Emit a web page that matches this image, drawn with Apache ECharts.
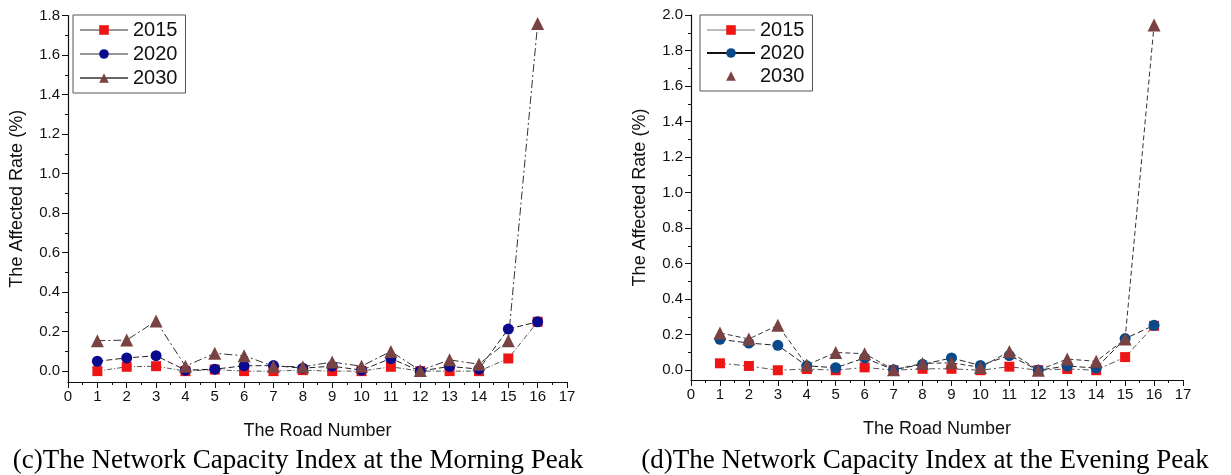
<!DOCTYPE html>
<html>
<head>
<meta charset="utf-8">
<script src="https://cdn.jsdelivr.net/npm/echarts@6/dist/echarts.min.js"></script>
<style>
html,body{margin:0;padding:0;background:#fff;}
#c{width:1231px;height:475px;}
</style>
</head>
<body>
<div id="c"></div>
<script>
var roads = [1,2,3,4,5,6,7,8,9,10,11,12,13,14,15,16];
var years = ['2015','2020','2030'];
// (c) Morning peak
var morning2015 = [0.000,0.022,0.025,0.000,0.008,0.000,0.000,0.005,0.000,0.000,0.022,0.000,0.000,0.000,0.064,0.250];
var morning2020 = [0.050,0.067,0.078,0.005,0.010,0.027,0.028,0.015,0.025,0.005,0.064,0.000,0.024,0.010,0.213,0.250];
var morning2030 = [0.154,0.157,0.254,0.025,0.090,0.078,0.025,0.022,0.046,0.025,0.100,0.003,0.057,0.035,0.154,1.760];
// (d) Evening peak
var evening2015 = [0.039,0.024,0.000,0.007,0.000,0.016,0.000,0.008,0.008,0.000,0.020,0.000,0.007,0.000,0.074,0.250];
var evening2020 = [0.174,0.153,0.140,0.025,0.014,0.069,0.003,0.033,0.069,0.027,0.083,0.000,0.024,0.012,0.178,0.253];
var evening2030 = [0.210,0.176,0.253,0.029,0.100,0.093,0.003,0.038,0.042,0.016,0.106,0.000,0.063,0.050,0.176,1.943];
var leftMajor = [0,0.2,0.4,0.6,0.8,1.0,1.2,1.4,1.6,1.8];
var leftMinor = [0.1,0.3,0.5,0.7,0.9,1.1,1.3,1.5,1.7];
var rightMajor = [0,0.2,0.4,0.6,0.8,1.0,1.2,1.4,1.6,1.8,2.0];
var rightMinor = [0.1,0.3,0.5,0.7,0.9,1.1,1.3,1.5,1.7,1.9];
var xTitle = 'The Road Number';
var yTitle = 'The Affected Rate (%)';
var captionC = '(c)The Network Capacity Index at the Morning Peak';
var captionD = '(d)The Network Capacity Index at the Evening Peak';

var FONT = 'Liberation Sans';
function pairs(v){ return roads.map(function(r,i){ return [r, v[i]]; }); }

function xAxisDef(gi){
  return {
    type:'value', gridIndex:gi, min:0, max:17, interval:1,
    name:xTitle, nameLocation:'middle', nameGap:40,
    nameTextStyle:{fontFamily:FONT, fontSize:18, color:'#111'},
    axisLine:{show:true, onZero:false, lineStyle:{color:'#111', width:1.2}},
    axisTick:{show:true, inside:false, length:6, lineStyle:{color:'#111'}},
    minorTick:{show:true, splitNumber:2, length:3, lineStyle:{color:'#111'}},
    axisLabel:{fontFamily:FONT, fontSize:15, color:'#111', margin:7},
    splitLine:{show:false}, minorSplitLine:{show:false}
  };
}
function yAxisMain(gi, max, major){
  return {
    type:'value', gridIndex:gi, min:-0.055, max:max, position:'left',
    name:yTitle, nameLocation:'middle', nameGap:42, nameRotate:90,
    nameTextStyle:{fontFamily:FONT, fontSize:18, color:'#111'},
    axisLine:{show:true, lineStyle:{color:'#111', width:1.2}},
    axisTick:{show:true, inside:false, length:6, customValues:major, lineStyle:{color:'#111'}},
    axisLabel:{fontFamily:FONT, fontSize:15, color:'#111', margin:8, customValues:major,
      formatter:function(v){ return (+v).toFixed(1); }},
    splitLine:{show:false}
  };
}
function yAxisMinor(gi, max, minor){
  return {
    type:'value', gridIndex:gi, min:-0.055, max:max, position:'left', offset:0,
    axisLine:{show:false},
    axisTick:{show:true, inside:false, length:3, customValues:minor, lineStyle:{color:'#111'}},
    axisLabel:{show:false},
    splitLine:{show:false}
  };
}
function seriesDef(name, data, xi, yi, symbol, color, size, lineColor, dash){
  return {
    name:name, type:'line', xAxisIndex:xi, yAxisIndex:yi, data:pairs(data),
    symbol:symbol, symbolSize:size, showSymbol:true,
    itemStyle:{color:color},
    lineStyle:{color:lineColor, width:1, type:dash},
    z: 2, animation:false
  };
}
var RED = '#ee1515', BLUE_L = '#0a0a8f', BLUE_R = '#0b4a88', BROWN = '#7a4343';

var option = {
  animation:false,
  backgroundColor:'#fff',
  grid:[
    {left:68, top:15.5, width:499, height:366.5, containLabel:false},
    {left:691, top:15, width:492, height:365, containLabel:false}
  ],
  xAxis:[xAxisDef(0), xAxisDef(1)],
  yAxis:[yAxisMain(0,1.8,leftMajor), yAxisMain(1,2.0,rightMajor), yAxisMinor(0,1.8,leftMinor), yAxisMinor(1,2.0,rightMinor)],
  legend:[
    {
      left:73, top:15, orient:'vertical', itemWidth:48, itemHeight:12, itemGap:4,
      padding:[5,8,5,6], borderColor:'#555', borderWidth:1,
      textStyle:{fontFamily:FONT, fontSize:20, color:'#111'},
      data:[
        {name:'2015', lineStyle:{type:'solid', color:'#999'}},
        {name:'2020', lineStyle:{type:'solid', color:'#999'}},
        {name:'2030', lineStyle:{type:'solid', color:'#666'}}
      ]
    },
    {
      left:700, top:15, orient:'vertical', itemWidth:48, itemHeight:12, itemGap:3,
      padding:[5,8,5,6], borderColor:'#555', borderWidth:1,
      textStyle:{fontFamily:FONT, fontSize:20, color:'#111'},
      data:[
        {name:'2015 ', lineStyle:{type:'solid', color:'#bbb'}},
        {name:'2020 ', lineStyle:{type:'solid', color:'#111'}},
        {name:'2030 ', lineStyle:{type:'solid', color:'rgba(0,0,0,0)', opacity:0}}
      ],
      formatter:function(n){ return n.trim(); }
    }
  ],
  series:[
    seriesDef('2015', morning2015, 0, 0, 'rect', RED, 10, '#555', [5,2,1,2]),
    seriesDef('2020', morning2020, 0, 0, 'circle', BLUE_L, 11, '#222', [6,3]),
    seriesDef('2030', morning2030, 0, 0, 'triangle', BROWN, 13, '#333', [8,3,2,3]),
    seriesDef('2015 ', evening2015, 1, 1, 'rect', RED, 10, '#555', [6,3,2,3]),
    seriesDef('2020 ', evening2020, 1, 1, 'circle', BLUE_R, 11, '#222', [6,3]),
    seriesDef('2030 ', evening2030, 1, 1, 'triangle', BROWN, 13, '#333', [5,3])
  ],
  graphic:[
    {type:'text', x:298, y:461, style:{text:captionC, font:'27px "Liberation Serif"', fill:'#000', align:'center', verticalAlign:'middle'}},
    {type:'text', x:925, y:461, style:{text:captionD, font:'27px "Liberation Serif"', fill:'#000', align:'center', verticalAlign:'middle'}}
  ]
};
var chart = echarts.init(document.getElementById('c'), null, {renderer:'canvas'});
chart.setOption(option);
</script>
</body>
</html>
